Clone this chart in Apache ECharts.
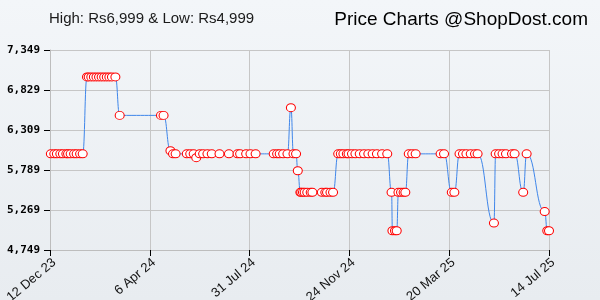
<!DOCTYPE html>
<html>
<head>
<meta charset="utf-8">
<script src="https://cdn.jsdelivr.net/npm/echarts@6/dist/echarts.min.js"></script>
<style>
  html, body { margin: 0; padding: 0; }
  #main { width: 600px; height: 300px; }
</style>
</head>
<body>
<div id="main"></div>
<script>
// x = days since 12 Dec 23, y = price in Rs
var startDate = Date.UTC(2023, 11, 12);
var dayOffsets = [
  1, 5, 8, 12, 15, 19, 21, 24, 28, 31, 35, 38,
  43, 45, 48, 51, 54, 57, 60, 63, 66, 69, 72, 76,
  81, 129, 132,
  140, 143, 146, 159, 163, 167, 170, 174, 178, 183, 188, 197, 208, 218, 221, 228, 233, 239,
  260, 264, 267, 271, 276, 280, 283, 286, 288,
  291, 292, 294, 296, 299, 303, 305, 316, 320, 322, 326, 329,
  335, 338, 341, 345, 347, 351, 355, 360, 365, 370, 375, 380, 386, 392,
  397, 398, 401, 403, 405, 408, 411, 413, 417, 421, 425, 454, 458,
  467, 470, 476, 480, 484, 489, 494, 497,
  516, 518, 522, 526, 530, 537, 540, 550, 554, 575, 578, 580
];
var prices = [
  5999, 5999, 5999, 5999, 5999, 5999, 5999, 5999, 5999, 5999, 5999, 5999,
  6999, 6999, 6999, 6999, 6999, 6999, 6999, 6999, 6999, 6999, 6999, 6999,
  6499, 6499, 6499,
  6039, 5999, 5999, 5999, 5999, 5999, 5949, 5999, 5999, 5999, 5999, 5999, 5999, 5999, 5999, 5999, 5999, 5999,
  5999, 5999, 5999, 5999, 5999, 6599, 5999, 5999, 5779,
  5499, 5499, 5499, 5499, 5499, 5499, 5499, 5499, 5499, 5499, 5499, 5499,
  5999, 5999, 5999, 5999, 5999, 5999, 5999, 5999, 5999, 5999, 5999, 5999, 5999, 5999,
  5499, 4999, 4999, 4999, 5499, 5499, 5499, 5499, 5999, 5999, 5999, 5999, 5999,
  5499, 5499, 5999, 5999, 5999, 5999, 5999, 5999,
  5099, 5999, 5999, 5999, 5999, 5999, 5999, 5499, 5999, 5249, 4999, 4999
];
var yTicks = [4749, 5269, 5789, 6309, 6829, 7349];
var xTickDays = [0, 116, 232, 348, 464, 580];

var yBase = yTicks[0];
var yStep = yTicks[1] - yTicks[0];
var months = ['Jan','Feb','Mar','Apr','May','Jun','Jul','Aug','Sep','Oct','Nov','Dec'];

function dayLabel(d) {
    var dt = new Date(startDate + d * 86400000);
    var yy = String(dt.getUTCFullYear()).slice(2);
    return dt.getUTCDate() + ' ' + months[dt.getUTCMonth()] + ' ' + yy;
}

var points = [];
for (var i = 0; i < dayOffsets.length; i++) {
    points.push([dayOffsets[i], prices[i] - yBase]);
}

var myChart = echarts.init(document.getElementById('main'));
var option = {
    animation: false,
    backgroundColor: {
        type: 'linear', x: 0, y: 0, x2: 0, y2: 1,
        colorStops: [{offset: 0, color: '#f3f6f9'}, {offset: 1, color: '#e8ecf0'}]
    },
    title: [
        {
            text: 'High: Rs6,999 & Low: Rs4,999',
            left: 44, top: 6,
            textStyle: {fontFamily: 'Liberation Sans', fontSize: 15, fontWeight: 'normal', color: '#1a1a1a'}
        },
        {
            text: 'Price Charts @ShopDost.com',
            right: 7, top: 5,
            textStyle: {fontFamily: 'Liberation Sans', fontSize: 19, fontWeight: 'normal', color: '#000'}
        }
    ],
    grid: {left: 50, right: 51, top: 50, bottom: 50, outerBoundsMode: 'none', containLabel: false},
    xAxis: {
        type: 'value',
        min: xTickDays[0],
        max: xTickDays[xTickDays.length - 1],
        interval: xTickDays[1] - xTickDays[0],
        axisLine: {lineStyle: {color: '#bdbdbd', width: 1}},
        axisTick: {length: 6, lineStyle: {color: '#000'}},
        splitLine: {show: true, lineStyle: {color: '#c6c6c6', width: 1}},
        axisLabel: {
            rotate: 40,
            margin: 6,
            verticalAlign: 'top',
            fontFamily: 'Liberation Sans',
            fontSize: 13,
            color: '#111',
            formatter: function (v) { return dayLabel(v); }
        }
    },
    yAxis: {
        type: 'value',
        min: 0,
        max: yTicks[yTicks.length - 1] - yBase,
        interval: yStep,
        axisLine: {show: true, lineStyle: {color: '#bdbdbd', width: 1}},
        axisTick: {show: true, length: 6, lineStyle: {color: '#000'}},
        splitLine: {show: true, lineStyle: {color: '#c6c6c6', width: 1}},
        axisLabel: {
            margin: 10,
            fontFamily: 'DejaVu Sans Mono',
            fontWeight: 'bold',
            fontSize: 11,
            color: '#000',
            formatter: function (v) { return (v + yBase).toLocaleString('en-US'); }
        }
    },
    series: [
        {
            type: 'line',
            data: points,
            clip: false,
            smooth: 0.5,
            smoothMonotone: 'x',
            symbol: 'circle',
            symbolSize: [9, 8],
            lineStyle: {color: '#3f86ea', width: 1},
            itemStyle: {color: '#ffffff', borderColor: '#ff0000', borderWidth: 1}
        }
    ]
};
myChart.setOption(option);
</script>
</body>
</html>
